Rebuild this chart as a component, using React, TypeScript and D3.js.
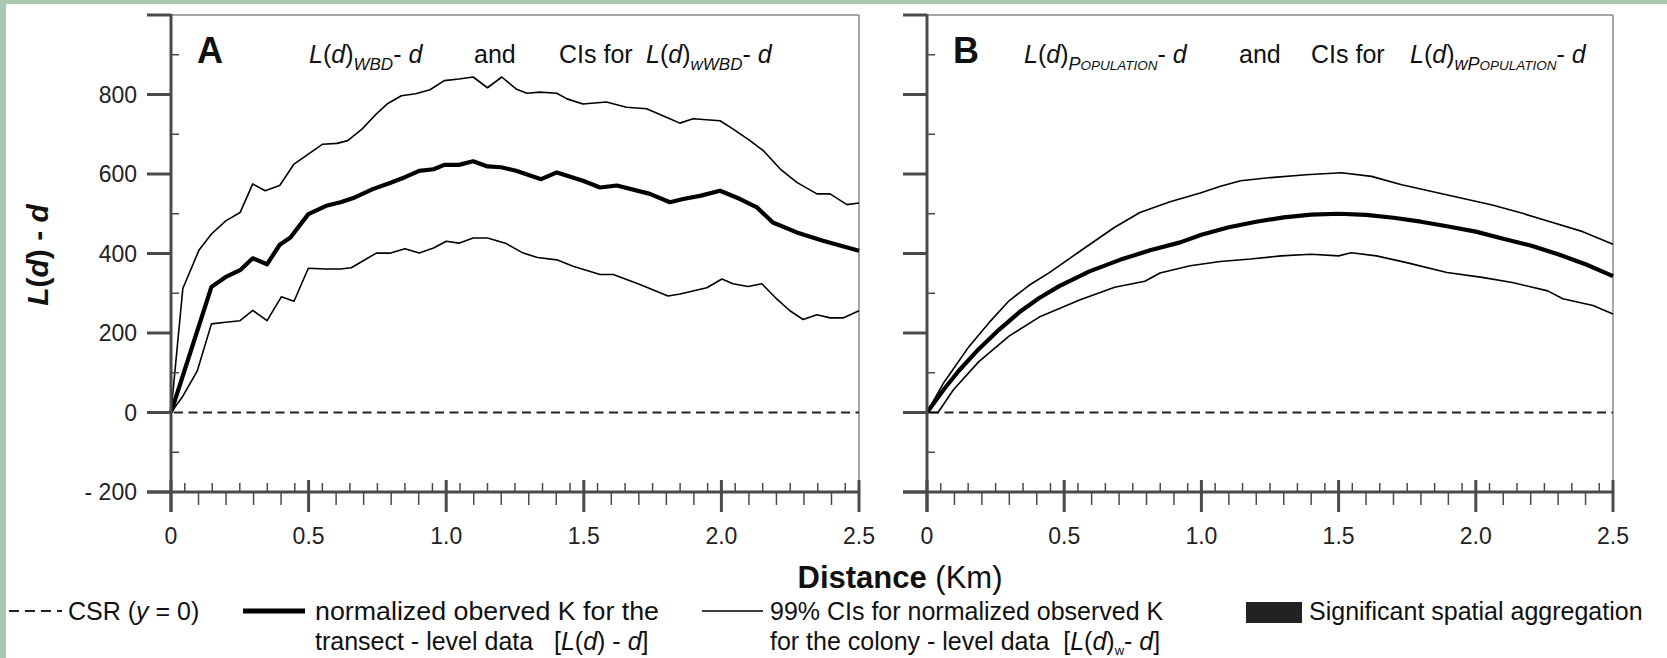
import React from 'react';
import * as d3 from 'd3';

// ---------- data ----------
const xTickValues = [0, 0.5, 1.0, 1.5, 2.0, 2.5];
const yTickValues = [-200, 0, 200, 400, 600, 800, 1000];
const yTickLabels = ['- 200', '0', '200', '400', '600', '800', ''];

// Panel A: observed (thick)
const obsAx = [0, 0.147, 0.199, 0.251, 0.297, 0.349, 0.395, 0.434, 0.499, 0.564, 0.616, 0.668, 0.733, 0.798, 0.85, 0.902, 0.954, 0.993, 1.046, 1.098, 1.15, 1.2, 1.254, 1.345, 1.402, 1.497, 1.559, 1.62, 1.74, 1.813, 1.861, 1.922, 1.995, 2.068, 2.129, 2.187, 2.274, 2.369, 2.5];
const obsAy = [0, 316, 341, 358, 388, 373, 422, 440, 499, 520, 529, 541, 562, 578, 592, 608, 612, 623, 623, 632, 619, 617, 608, 587, 604, 583, 566, 571, 550, 529, 537, 545, 558, 537, 516, 478, 453, 432, 407];
// Panel A: upper 99% CI
const upAx = [0, 0.043, 0.102, 0.147, 0.199, 0.251, 0.297, 0.342, 0.395, 0.447, 0.499, 0.551, 0.603, 0.642, 0.694, 0.746, 0.785, 0.837, 0.889, 0.941, 0.993, 1.046, 1.098, 1.15, 1.202, 1.254, 1.293, 1.341, 1.402, 1.439, 1.497, 1.582, 1.655, 1.728, 1.8, 1.849, 1.897, 1.995, 2.043, 2.104, 2.152, 2.213, 2.274, 2.347, 2.395, 2.456, 2.5];
const upAy = [0, 312, 409, 449, 482, 503, 575, 558, 571, 625, 650, 675, 677, 684, 713, 751, 776, 797, 802, 812, 835, 839, 844, 817, 844, 814, 803, 806, 803, 789, 776, 781, 768, 764, 743, 728, 739, 734, 713, 684, 659, 613, 579, 550, 550, 523, 527];
// Panel A: lower 99% CI
const loAx = [0, 0.043, 0.095, 0.147, 0.199, 0.251, 0.297, 0.349, 0.401, 0.447, 0.499, 0.564, 0.616, 0.655, 0.694, 0.746, 0.798, 0.85, 0.902, 0.954, 1.0, 1.046, 1.098, 1.15, 1.215, 1.28, 1.332, 1.402, 1.461, 1.559, 1.607, 1.704, 1.806, 1.85, 1.947, 2.002, 2.042, 2.097, 2.147, 2.202, 2.249, 2.297, 2.347, 2.395, 2.442, 2.5];
const loAy = [0, 41, 104, 223, 227, 231, 257, 231, 291, 280, 363, 361, 361, 364, 380, 401, 401, 412, 401, 414, 431, 426, 439, 439, 426, 401, 390, 384, 368, 347, 347, 322, 293, 298, 314, 336, 324, 317, 324, 285, 256, 234, 246, 238, 238, 256];

// Panel B: observed (thick)
const obsBx = [0, 0.061, 0.116, 0.189, 0.262, 0.336, 0.409, 0.482, 0.592, 0.703, 0.813, 0.923, 1.0, 1.1, 1.2, 1.3, 1.4, 1.5, 1.6, 1.7, 1.8, 1.9, 2.0, 2.1, 2.2, 2.3, 2.4, 2.5];
const obsBy = [0, 58, 105, 160, 208, 252, 288, 318, 355, 384, 408, 428, 447, 466, 480, 491, 498, 500, 497, 490, 480, 468, 455, 437, 420, 398, 373, 343];
// Panel B: upper CI
const upBx = [0, 0.061, 0.152, 0.226, 0.299, 0.372, 0.446, 0.556, 0.684, 0.776, 0.886, 0.996, 1.07, 1.143, 1.253, 1.381, 1.51, 1.62, 1.73, 1.84, 1.95, 2.06, 2.17, 2.28, 2.39, 2.5];
const upBy = [0, 75, 165, 226, 281, 320, 352, 405, 466, 503, 530, 552, 569, 583, 591, 598, 603, 594, 573, 556, 539, 522, 501, 478, 455, 423];
// Panel B: lower CI
const loBx = [0, 0.04, 0.097, 0.189, 0.299, 0.409, 0.556, 0.684, 0.794, 0.849, 0.959, 1.069, 1.179, 1.29, 1.4, 1.5, 1.546, 1.638, 1.748, 1.895, 2.023, 2.133, 2.262, 2.317, 2.427, 2.5];
const loBy = [0, 0, 58, 128, 192, 240, 283, 315, 330, 351, 369, 380, 386, 394, 398, 394, 402, 394, 377, 352, 340, 327, 306, 286, 269, 248];

// ---------- layout ----------
const W = 1667;
const H = 658;
const FONT = "'Liberation Sans', Arial, Helvetica, sans-serif";
const AXIS = '#4a4a4a';
const FRAME = '#8a8a8a';

const yScale = d3.scaleLinear().domain([-200, 1000]).range([492, 15]);

type Series = { xs: number[]; ys: number[]; w: number };

function zip(xs: number[], ys: number[]): [number, number][] {
  return xs.map((x, i) => [x, ys[i]]);
}

function Panel({ x0, x1, labels, series }: { x0: number; x1: number; labels: boolean; series: Series[] }) {
  const xScale = d3.scaleLinear().domain([0, 2.5]).range([x0, x1]);
  const line = d3
    .line<[number, number]>()
    .x((d) => xScale(d[0]))
    .y((d) => yScale(d[1]));
  const yB = yScale(-200);
  const yT = yScale(1000);
  const minorX = d3.range(1, 50).filter((i) => i % 10 !== 0);
  const minorY = [-100, 100, 300, 500, 700, 900];
  return (
    <g>
      {/* frame */}
      <line x1={x0} x2={x1} y1={yT} y2={yT} stroke={FRAME} strokeWidth={1.5} />
      <line x1={x1} x2={x1} y1={yT} y2={yB} stroke={FRAME} strokeWidth={1.5} />
      {/* zero line */}
      <line x1={x0 + 3} x2={x1} y1={yScale(0)} y2={yScale(0)} stroke="#222" strokeWidth={2.2} strokeDasharray="9,5.5" />
      {/* curves */}
      {series.map((s, i) => (
        <path key={i} d={line(zip(s.xs, s.ys)) || ''} fill="none" stroke="#000" strokeWidth={s.w} strokeLinejoin="round" />
      ))}
      {/* y axis */}
      <line x1={x0} x2={x0} y1={yT - 1} y2={yB + 20} stroke={AXIS} strokeWidth={3} />
      {yTickValues.map((v, i) => (
        <g key={'yt' + i}>
          <line x1={x0 - 24} x2={x0} y1={yScale(v)} y2={yScale(v)} stroke={AXIS} strokeWidth={3} />
          {labels && yTickLabels[i] !== '' && (
            <text x={x0 - 34} y={yScale(v) + 8} textAnchor="end" fontSize={23} fill="#222" style={{ whiteSpace: 'pre' }}>
              {yTickLabels[i]}
            </text>
          )}
        </g>
      ))}
      {minorY.map((v) => (
        <line key={'ym' + v} x1={x0} x2={x0 + 8} y1={yScale(v)} y2={yScale(v)} stroke={AXIS} strokeWidth={1.5} />
      ))}
      {/* x axis */}
      <line x1={x0 - 24} x2={x1} y1={yB} y2={yB} stroke={AXIS} strokeWidth={3} />
      {xTickValues.map((v) => (
        <g key={'xt' + v}>
          <line x1={xScale(v)} x2={xScale(v)} y1={yB - 12} y2={yB + 20} stroke={AXIS} strokeWidth={3} />
          <text x={xScale(v)} y={544} textAnchor="middle" fontSize={23} fill="#222">
            {v === 0 ? '0' : v.toFixed(1)}
          </text>
        </g>
      ))}
      {minorX.map((i) => {
        const v = i * 0.05;
        const up = i % 2 === 1;
        return (
          <line
            key={'xm' + i}
            x1={xScale(v)}
            x2={xScale(v)}
            y1={up ? yB - 9 : yB}
            y2={up ? yB : yB + 13}
            stroke={AXIS}
            strokeWidth={1.5}
          />
        );
      })}
    </g>
  );
}

export default function App() {
  const it = { fontStyle: 'italic' as const };
  const TY = 63;
  return (
    <svg width={W} height={H} style={{ position: 'absolute', left: 0, top: 0, fontFamily: FONT }}>
      <rect x={0} y={0} width={W} height={H} fill="#a8c8b0" />
      <rect x={6} y={4} width={W - 6} height={H - 4} fill="#ffffff" />

      <Panel
        x0={171}
        x1={859}
        labels={true}
        series={[
          { xs: upAx, ys: upAy, w: 1.6 },
          { xs: loAx, ys: loAy, w: 1.6 },
          { xs: obsAx, ys: obsAy, w: 4.2 },
        ]}
      />
      <Panel
        x0={927}
        x1={1613}
        labels={false}
        series={[
          { xs: upBx, ys: upBy, w: 1.6 },
          { xs: loBx, ys: loBy, w: 1.6 },
          { xs: obsBx, ys: obsBy, w: 4.2 },
        ]}
      />

      {/* panel titles */}
      <g fill="#111" fontSize={25} style={{ whiteSpace: 'pre' }}>
        <text x={197} y={TY} fontSize={36} fontWeight="bold">A</text>
        <text x={309} y={TY}>
          <tspan {...it}>L</tspan>(<tspan {...it}>d</tspan>)
          <tspan {...it} fontSize={17} dy={7}>WBD</tspan>
          <tspan dy={-7}>- </tspan>
          <tspan {...it}>d</tspan>
        </text>
        <text x={474} y={TY}>and</text>
        <text x={559} y={TY}>CIs for</text>
        <text x={646} y={TY}>
          <tspan {...it}>L</tspan>(<tspan {...it}>d</tspan>)
          <tspan {...it} fontSize={17} dy={7}>wWBD</tspan>
          <tspan dy={-7}>- </tspan>
          <tspan {...it}>d</tspan>
        </text>

        <text x={953} y={TY} fontSize={36} fontWeight="bold">B</text>
        <text x={1024} y={TY}>
          <tspan {...it}>L</tspan>(<tspan {...it}>d</tspan>)
          <tspan {...it} fontSize={18} dy={7}>P</tspan>
          <tspan {...it} fontSize={13.5}>OPULATION</tspan>
          <tspan dy={-7}>- </tspan>
          <tspan {...it}>d</tspan>
        </text>
        <text x={1239} y={TY}>and</text>
        <text x={1311} y={TY}>CIs for</text>
        <text x={1410} y={TY}>
          <tspan {...it}>L</tspan>(<tspan {...it}>d</tspan>)
          <tspan {...it} fontSize={18} dy={7}>wP</tspan>
          <tspan {...it} fontSize={13.5}>OPULATION</tspan>
          <tspan dy={-7}>- </tspan>
          <tspan {...it}>d</tspan>
        </text>
      </g>

      {/* y axis title */}
      <text
        transform="translate(48,255) rotate(-90)"
        textAnchor="middle"
        fontSize={30}
        fontWeight="bold"
        fill="#111"
        style={{ whiteSpace: 'pre' }}
      >
        <tspan {...it}>L</tspan>(<tspan {...it}>d</tspan>) - <tspan {...it}>d</tspan>
      </text>

      {/* x axis title */}
      <text x={900} y={588} textAnchor="middle" fontSize={31} fill="#111" style={{ whiteSpace: 'pre' }}>
        <tspan fontWeight="bold">Distance</tspan> (Km)
      </text>

      {/* legend */}
      <g fill="#111" fontSize={25} style={{ whiteSpace: 'pre' }}>
        <line x1={9} x2={62} y1={611} y2={611} stroke="#222" strokeWidth={2} strokeDasharray="10,6" />
        <text x={68} y={620}>
          {'CSR ('}<tspan {...it}>y</tspan>{'\u00a0=\u00a00)'}
        </text>
        <line x1={243} x2={305} y1={611} y2={611} stroke="#000" strokeWidth={5} />
        <text x={315} y={620} textLength={344} lengthAdjust="spacingAndGlyphs">normalized oberved K for the</text>
        <text x={315} y={650}>
          {'transect - level data\u00a0\u00a0\u00a0['}<tspan {...it}>L</tspan>(<tspan {...it}>d</tspan>){' - '}<tspan {...it}>d</tspan>]
        </text>
        <line x1={702} x2={763} y1={611} y2={611} stroke="#000" strokeWidth={1.6} />
        <text x={770} y={620}>99% CIs for normalized observed K</text>
        <text x={770} y={650}>
          {'for the colony - level data\u00a0\u00a0['}<tspan {...it}>L</tspan>(<tspan {...it}>d</tspan>)
          <tspan fontSize={13} dy={5}>w</tspan>
          <tspan dy={-5}>- </tspan>
          <tspan {...it}>d</tspan>]
        </text>
        <rect x={1246} y={602} width={56} height={21} fill="#222" />
        <text x={1309} y={620}>Significant spatial aggregation</text>
      </g>
    </svg>
  );
}
